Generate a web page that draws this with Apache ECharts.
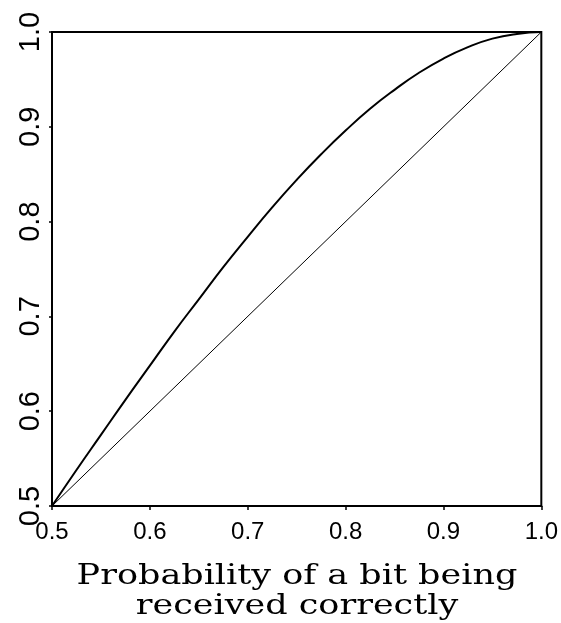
<!DOCTYPE html>
<html>
<head>
<meta charset="utf-8">
<script src="https://cdn.jsdelivr.net/npm/echarts@6/dist/echarts.min.js"></script>
<style>
  html, body { margin: 0; padding: 0; background: #fff; }
  #chart { width: 561px; height: 623px; }
</style>
</head>
<body>
<div id="chart"></div>
<script>
// probability of a single bit being received correctly
var bitProb = [0.5, 0.525, 0.55, 0.575, 0.6, 0.625, 0.65, 0.675, 0.7, 0.725, 0.75,
               0.775, 0.8, 0.825, 0.85, 0.875, 0.9, 0.925, 0.95, 0.975, 1.0];
// probability of the word being correct
var wordProb = [0.5, 0.538, 0.575, 0.612, 0.648, 0.684, 0.718, 0.752, 0.784, 0.815, 0.844,
                0.871, 0.896, 0.919, 0.939, 0.957, 0.972, 0.984, 0.993, 0.998, 1.0];
// reference diagonal
var diagX = [0.5, 1.0];
var diagY = [0.5, 1.0];
var titleLines = ['Probability of a bit being', 'received correctly'];

var chart = echarts.init(document.getElementById('chart'));
chart.setOption({
  animation: false,
  grid: {
    left: 52, right: 18, top: 32, bottom: 117,
    show: true, borderColor: '#000', borderWidth: 2
  },
  xAxis: {
    type: 'value',
    min: 0.5, max: 1.0, interval: 0.1,
    axisLine: { lineStyle: { color: '#000', width: 2 } },
    axisTick: { length: 4, lineStyle: { color: '#000', width: 1.5 } },
    splitLine: { show: false },
    axisLabel: {
      color: '#000', fontSize: 24, fontFamily: 'Liberation Sans, Arial, sans-serif',
      margin: 14,
      formatter: function (v) { return v.toFixed(1); }
    }
  },
  yAxis: {
    type: 'value',
    min: 0.5, max: 1.0, interval: 0.1,
    axisLine: { lineStyle: { color: '#000', width: 2 } },
    axisTick: { length: 3, lineStyle: { color: '#000', width: 1.5 } },
    splitLine: { show: false },
    axisLabel: {
      color: '#000', fontSize: 29, fontFamily: 'Liberation Sans, Arial, sans-serif',
      rotate: 90, margin: 7,
      formatter: function (v) { return v.toFixed(1); }
    }
  },
  // axis title, stretched a bit to get the wide look of the original serif
  graphic: titleLines.map(function (t, i) {
    return {
      type: 'text',
      x: 297, y: 577 + i * 30,
      scaleX: 1.25,
      style: {
        text: t, x: 0, y: 0,
        align: 'center', verticalAlign: 'middle',
        fill: '#000', fontSize: 28, fontFamily: 'DejaVu Serif, serif'
      }
    };
  }),
  series: [
    {
      type: 'line',
      data: bitProb.map(function (p, i) { return [p, wordProb[i]]; }),
      smooth: true,
      symbol: 'none',
      lineStyle: { color: '#000', width: 2 }
    },
    {
      type: 'line',
      data: diagX.map(function (p, i) { return [p, diagY[i]]; }),
      symbol: 'none',
      lineStyle: { color: '#000', width: 1 }
    }
  ]
});
</script>
</body>
</html>
